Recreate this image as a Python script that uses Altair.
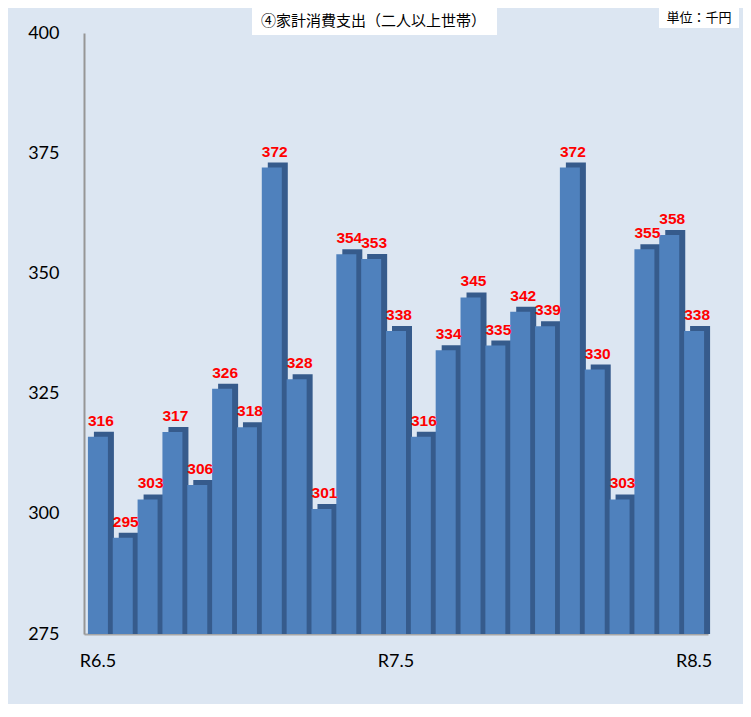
import altair as alt
import pandas as pd

months = ["R6.5", "R6.6", "R6.7", "R6.8", "R6.9", "R6.10", "R6.11", "R6.12",
          "R7.1", "R7.2", "R7.3", "R7.4", "R7.5", "R7.6", "R7.7", "R7.8",
          "R7.9", "R7.10", "R7.11", "R7.12", "R8.1", "R8.2", "R8.3", "R8.4", "R8.5"]
values = [316, 295, 303, 317, 306, 326, 318, 372, 328, 301, 354, 353, 338,
          316, 334, 345, 335, 342, 339, 372, 330, 303, 355, 358, 338]
xticks = ["R6.5", "R7.5", "R8.5"]
yticks = [275, 300, 325, 350, 375, 400]
title_text = "④家計消費支出（二人以上世帯）"
unit_text = "単位：千円"

df = pd.DataFrame({"month": months, "value": values})

xscale = alt.Scale(domain=months, paddingInner=0, paddingOuter=0.06)
yscale = alt.Scale(domain=[275, 400], nice=False, zero=False)

xenc = alt.X("month:N", scale=xscale, sort=months, title=None,
             axis=alt.Axis(values=xticks, labelAngle=0, ticks=False, labelPadding=18,
                           labelFont="Lato", labelFontSize=18, labelColor="#000000",
                           domainColor="#a6a6a6", domainWidth=2))
yenc = alt.Y("value:Q", scale=yscale, title=None,
             axis=alt.Axis(values=yticks, ticks=False, grid=False, labelPadding=25,
                           labelFont="Lato", labelFontSize=18, labelColor="#000000",
                           domainColor="#969696", domainWidth=2))

base = alt.Chart(df)

side = base.mark_bar(size=20, xOffset=6, yOffset=-5, color="#365b8c").encode(
    x=xenc, y=yenc, y2=alt.datum(275))
front = base.mark_bar(size=20, color="#4f81bd").encode(
    x=xenc, y=yenc, y2=alt.datum(275))
labels = base.mark_text(color="#ff0000", fontWeight="bold", fontSize=15.5, font="Arial",
                        baseline="bottom", dx=3, dy=-8).encode(
    x=xenc, y=yenc, text="value:Q")

title_box = alt.Chart(pd.DataFrame({"t": [title_text]})).mark_rect(color="white").encode(
    x=alt.value(168), x2=alt.value(413), y=alt.value(-25), y2=alt.value(2))
title_lbl = alt.Chart(pd.DataFrame({"t": [title_text]})).mark_text(
    font="Noto Sans CJK JP", fontSize=15, align="left", baseline="middle", color="#000000").encode(
    x=alt.value(177), y=alt.value(-12), text="t:N")
unit_box = alt.Chart(pd.DataFrame({"t": [unit_text]})).mark_rect(color="white").encode(
    x=alt.value(575), x2=alt.value(655), y=alt.value(-25), y2=alt.value(-5))
unit_lbl = alt.Chart(pd.DataFrame({"t": [unit_text]})).mark_text(
    font="Noto Sans CJK JP", fontSize=13, align="center", baseline="middle", color="#000000").encode(
    x=alt.value(615), y=alt.value(-15), text="t:N")

chart = alt.layer(side, front, labels, title_box, title_lbl, unit_box, unit_lbl).properties(
    width=624, height=601,
    padding={"left": 76, "top": 25, "right": 35, "bottom": 70},
    autosize=alt.AutoSizeParams(type="none"),
    background="#dce6f2",
).configure_view(stroke=None)

chart.save("out.html", embed_options={"renderer": "svg", "actions": False})
